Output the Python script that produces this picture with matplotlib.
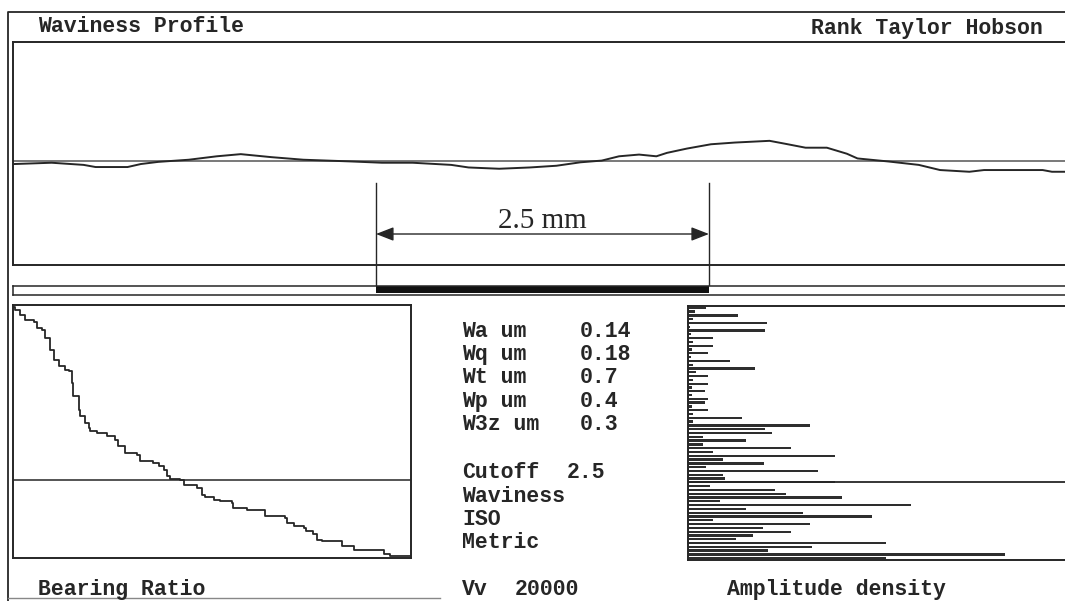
import numpy as np
import matplotlib
matplotlib.use("Agg")
import matplotlib.pyplot as plt
import matplotlib.transforms as mtransforms

W, H = 1065, 601

# waviness profile, x in mm, height in um
prof_x = [0.01, 0.29, 0.53, 0.62, 0.86, 0.96, 1.09, 1.32, 1.53, 1.71, 1.94,
          2.18, 2.54, 2.77, 3.00, 3.29, 3.42, 3.65, 3.88, 4.08, 4.26, 4.42,
          4.55, 4.70, 4.83, 4.91, 5.06, 5.24, 5.42, 5.68, 5.80, 5.95, 6.11,
          6.26, 6.34, 6.57, 6.80, 6.96, 7.18, 7.29, 7.73, 7.80, 7.95]
prof_y = [-0.06, -0.03, -0.08, -0.13, -0.13, -0.06, -0.01, 0.04, 0.12, 0.17,
          0.10, 0.04, 0.00, -0.03, -0.03, -0.08, -0.14, -0.17, -0.14, -0.10,
          -0.02, 0.02, 0.12, 0.16, 0.12, 0.20, 0.30, 0.40, 0.44, 0.48, 0.41,
          0.32, 0.32, 0.18, 0.07, 0.00, -0.08, -0.20, -0.24, -0.20, -0.20,
          -0.24, -0.24]
cutoff = 2.5
cut_start = 2.725

# bearing ratio curve, % and um
br_pct = [0.2, 0.6, 1.8, 3.1, 5.2, 6.0, 7.3, 8.1, 9.4, 10.2, 11.5, 13.1, 14.0,
          14.8, 15.2, 16.5, 16.9, 18.2, 19.0, 19.4, 21.1, 23.2, 23.6, 25.7,
          26.5, 28.2, 31.2, 32.0, 35.3, 36.6, 37.9, 38.7, 39.5, 42.0, 42.9,
          46.2, 47.5, 48.3, 50.4, 52.1, 55.0, 55.4, 58.8, 63.0, 63.4, 68.4,
          68.8, 70.5, 73.0, 73.5, 75.5, 76.4, 77.6, 82.2, 82.7, 85.6, 92.3,
          93.1, 94.8, 99.8]
br_h = [0.475, 0.466, 0.452, 0.437, 0.433, 0.414, 0.409, 0.385, 0.352, 0.324,
        0.305, 0.295, 0.291, 0.257, 0.220, 0.182, 0.163, 0.144, 0.130, 0.120,
        0.115, 0.115, 0.106, 0.096, 0.078, 0.059, 0.054, 0.035, 0.030, 0.021,
        0.011, -0.008, -0.014, -0.017, -0.031, -0.041, -0.060, -0.065, -0.074,
        -0.079, -0.083, -0.098, -0.102, -0.102, -0.121, -0.126, -0.140,
        -0.150, -0.154, -0.164, -0.173, -0.188, -0.192, -0.192, -0.207,
        -0.216, -0.216, -0.230, -0.235, -0.235]
ref_level = -0.018

# amplitude density, one bar per height class (top = highest)
amp_len = [18, 7, 50, 5, 79, 2, 77, 3, 25, 5, 25, 4, 20, 3, 42, 5, 67, 8, 20,
           5, 20, 4, 17, 4, 20, 17, 4, 20, 5, 54, 5, 122, 77, 84, 15, 58, 15,
           103, 25, 147, 35, 76, 18, 130, 35, 37, 147, 22, 87, 98, 154, 32,
           223, 58, 115, 184, 25, 122, 75, 103, 65, 48, 198, 124, 80, 317, 198]
amp_levels = np.linspace(0.475, -0.235, len(amp_len))

param_names = ["Wa um", "Wq um", "Wt um", "Wp um", "W3z um"]
param_vals = ["0.14", "0.18", "0.7", "0.4", "0.3"]
info_lines = ["Waviness", "ISO", "Metric"]

INK = "#262626"
mono = dict(family="Liberation Mono", weight="bold", fontsize=15.5, color=INK)


def rect(x0, y0, x1, y1):
    return [x0 / W, 1 - y1 / H, (x1 - x0) / W, (y1 - y0) / H]


def frame(ax, lw=1.4):
    ax.set_xticks([])
    ax.set_yticks([])
    for s in ax.spines.values():
        s.set_linewidth(lw)
        s.set_color(INK)


fig = plt.figure(figsize=(W / 100, H / 100), dpi=100)

# page frame and labels, in pixel units
bg = fig.add_axes([0, 0, 1, 1])
bg.set_xlim(0, W)
bg.set_ylim(H, 0)
bg.axis("off")
bg.plot([8, 8, 1070], [601, 12, 12], color=INK, lw=1.3)
bg.plot([8, 440], [598, 598], color="#888888", lw=1.0)
bg.text(38, 32, "Waviness Profile", **mono)
bg.text(1043, 34, "Rank Taylor Hobson", ha="right", **mono)
for i, (n, v) in enumerate(zip(param_names, param_vals)):
    yb = 337 + i * 23.2
    bg.text(462, yb, n, **mono)
    bg.text(580, yb, v, **mono)
bg.text(462, 478, "Cutoff", **mono)
bg.text(567, 478, str(cutoff), **mono)
for i, t in enumerate(info_lines):
    bg.text(462, 502 + i * 23.2, t, **mono)
bg.text(462, 595, "Vv", **mono)
bg.text(515, 595, "20000", **mono)
bg.text(38, 595, "Bearing Ratio", **mono)
bg.text(727, 595, "Amplitude density", **mono)

# profile
px0 = 13
mm_px = 133.2
ax = fig.add_axes(rect(13, 42, 1070, 265))
ax.set_xlim(0, (1070 - px0) / mm_px)
ax.set_ylim(-2.41, 2.78)
frame(ax)
ax.axhline(0, color="#555555", lw=1.1)
ax.plot(prof_x, prof_y, color=INK, lw=1.4)

tr = mtransforms.blended_transform_factory(ax.transData, ax.transAxes)
for xv in [cut_start, cut_start + cutoff]:
    ax.plot([xv, xv], [0.368, -0.121], transform=tr, color=INK, lw=1.0,
            clip_on=False)
ax.annotate("", xy=(cut_start, 0.139), xytext=(cut_start + cutoff, 0.139),
            xycoords=tr, textcoords=tr,
            arrowprops=dict(arrowstyle="<|-|>,head_length=0.9,head_width=0.35",
                            color=INK, lw=1.0, shrinkA=0, shrinkB=0,
                            mutation_scale=12))
ax.text(cut_start + cutoff / 2, 0.197, f"{cutoff} mm", transform=tr,
        ha="center", va="center", family="Liberation Serif", fontsize=21,
        color=INK)

# sampling strip
st = fig.add_axes(rect(13, 286, 1070, 295))
st.set_xlim(ax.get_xlim())
st.set_ylim(0, 1)
frame(st, lw=1.1)
st.barh(0.62, cutoff, left=cut_start, height=0.76, color="#111111")

# bearing ratio
ba = fig.add_axes(rect(13, 305, 411, 558))
ba.set_xlim(0, 100)
ba.set_ylim(-0.24, 0.48)
frame(ba)
ba.axhline(ref_level, color=INK, lw=1.1)
ba.plot(br_pct, br_h, color=INK, lw=1.3, drawstyle="steps-post")

# amplitude density
aa = fig.add_axes(rect(688, 306, 1070, 560))
aa.set_xlim(0, 382)
aa.set_ylim(-0.24, 0.48)
frame(aa)
aa.axhline(ref_level, color=INK, lw=1.3)
aa.barh(amp_levels, amp_len, height=0.0065, color="#2e2e2e")

fig.savefig("out.png", dpi=100)
